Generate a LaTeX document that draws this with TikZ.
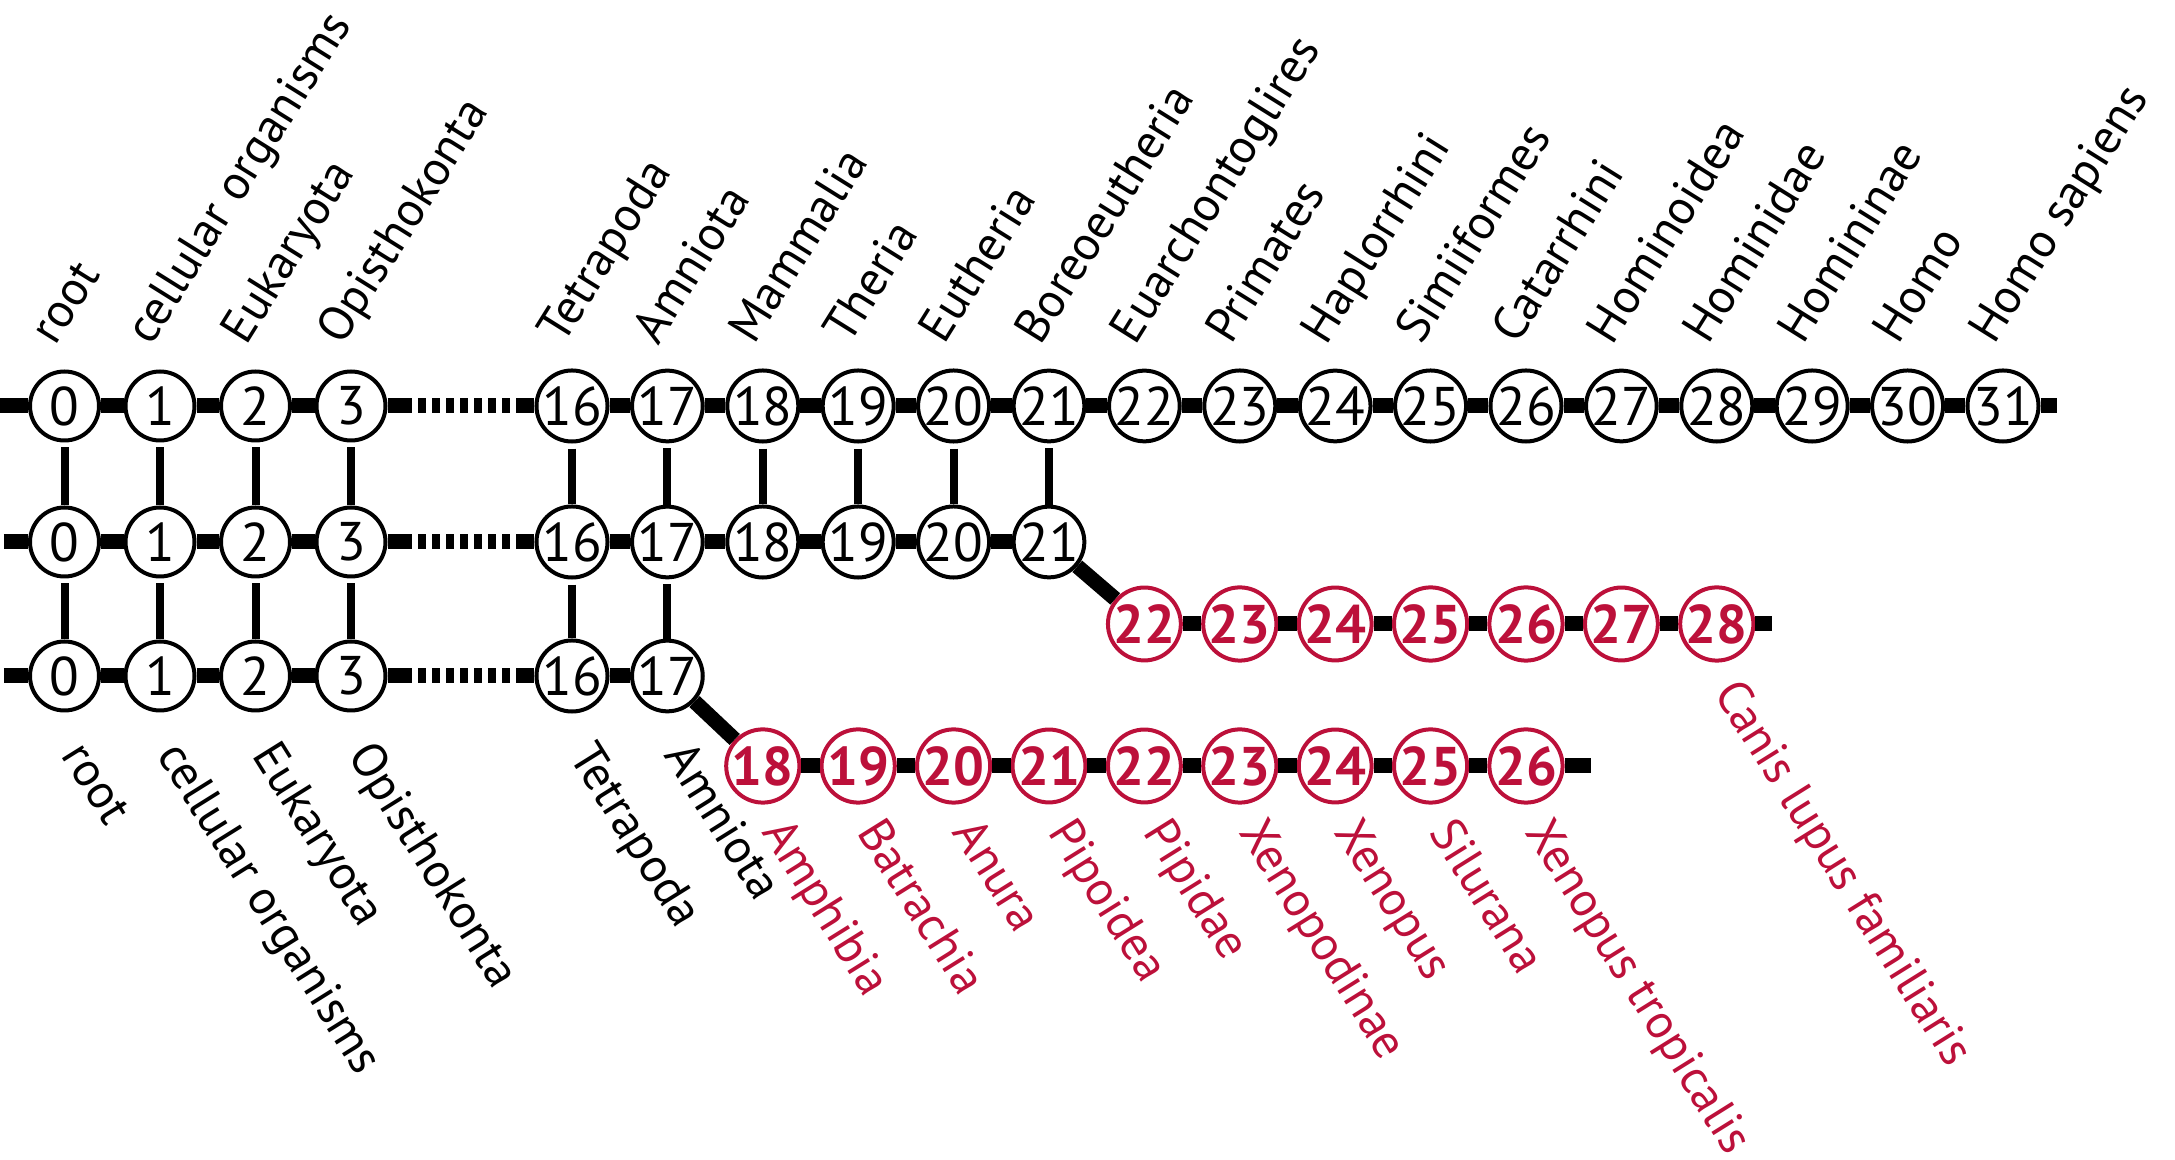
\documentclass[tikz,border=0pt]{standalone}
\usepackage{fontspec}
\setmainfont{PT Sans}
\usetikzlibrary{positioning}

\definecolor{novored}{RGB}{188,16,58}
\newcommand{\fonterotulo}{\fontsize{13.8}{16}\selectfont}
\newcommand{\fontenumero}{\fontsize{15.5}{18}\selectfont}

\tikzset{
  taxon/.style={circle, draw, line width=0.04cm, fill=white, minimum size=0.69cm,
    inner sep=0pt, font=\fontenumero},
  novo/.style={taxon, draw=novored, text=novored, font=\fontenumero\bfseries},
  ramo/.style={line width=0.15cm},
  elo/.style={line width=0.08cm},
  pontilhado/.style={ramo, dash pattern=on 0.075cm off 0.065cm, dash phase=0.075cm},
  rotcima/.style={rotate=58, anchor=base west, inner sep=0pt, font=\fonterotulo},
  rotbaixo/.style={rotate=-58, anchor=base west, inner sep=0pt, font=\fonterotulo},
}

\begin{document}
\begin{tikzpicture}

                \useasboundingbox (0,0) rectangle (21.75,11.6);
                \def\yA{7.54} % linhagem humana
                \def\yB{6.18} % linhagem do cão
                \def\yC{4.84} % linhagem da rã
                \def\yD{5.36} % ramo novo do cão
                \def\yF{3.94} % ramo novo da rã
                \def\dx{0.954} % passo entre nós

                % 1. Nós 0 a 3 nas três linhagens
                \foreach \i in {0,...,3}{
                    \pgfmathsetmacro{\xx}{0.645+0.955*\i}
                    \node[taxon] (a\i) at (\xx,\yA) {\i};
                    \node[taxon] (b\i) at (\xx,\yB) {\i};
                    \node[taxon] (c\i) at (\xx,\yC) {\i};
                }
                \foreach \i in {16,...,31}{
                    \pgfmathsetmacro{\xx}{5.72+\dx*(\i-16)}
                    \node[taxon] (a\i) at (\xx,\yA) {\i};
                }
                \foreach \i in {16,...,21}{
                    \pgfmathsetmacro{\xx}{5.72+\dx*(\i-16)}
                    \node[taxon] (b\i) at (\xx,\yB) {\i};
                }
                \foreach \i in {16,17}{
                    \pgfmathsetmacro{\xx}{5.72+\dx*(\i-16)}
                    \node[taxon] (c\i) at (\xx,\yC) {\i};
                }
                % nós novos (vermelhos)
                \foreach \i in {22,...,28}{
                    \pgfmathsetmacro{\xx}{5.72+\dx*(\i-16)}
                    \node[novo] (d\i) at (\xx,\yD) {\i};
                }
                \foreach \i in {18,...,26}{
                    \pgfmathsetmacro{\xx}{5.72+\dx*(\i-16)}
                    \node[novo] (f\i) at (\xx,\yF) {\i};
                }

                % 2. Linhas grossas entre os nós
                \coordinate (inicioA) at (0,\yA);
                \coordinate (inicioB) at (0.04,\yB);
                \coordinate (inicioC) at (0.04,\yC);
                \coordinate (fimA) at (20.57,\yA);
                \coordinate (fimD) at (17.72,\yD);
                \coordinate (fimF) at (15.91,\yF);
                \draw[ramo] (inicioA) -- (a0);
                \draw[ramo] (inicioB) -- (b0);
                \draw[ramo] (inicioC) -- (c0);
                \foreach \l in {a,b,c}{
                    \foreach \i in {0,1,2}{
                        \pgfmathtruncatemacro{\j}{\i+1}
                        \draw[ramo] (\l\i) -- (\l\j);
                    }
                    % trecho omitido (4 a 15)
                    \coordinate[right=0.24cm of \l3] (p\l);
                    \coordinate[left=0.155cm of \l16] (q\l);
                    \draw[ramo] (\l3) -- (p\l);
                    \draw[pontilhado] (p\l) -- (q\l);
                    \draw[ramo] (q\l) -- (\l16);
                }
                \foreach \i in {16,...,30}{
                    \pgfmathtruncatemacro{\j}{\i+1}
                    \draw[ramo] (a\i) -- (a\j);
                }
                \foreach \i in {16,...,20}{
                    \pgfmathtruncatemacro{\j}{\i+1}
                    \draw[ramo] (b\i) -- (b\j);
                }
                \draw[ramo] (c16) -- (c17);
                \foreach \i in {22,...,27}{
                    \pgfmathtruncatemacro{\j}{\i+1}
                    \draw[ramo] (d\i) -- (d\j);
                }
                \foreach \i in {18,...,25}{
                    \pgfmathtruncatemacro{\j}{\i+1}
                    \draw[ramo] (f\i) -- (f\j);
                }
                \draw[ramo] (a31) -- (fimA);
                \draw[ramo] (d28) -- (fimD);
                \draw[ramo] (f26) -- (fimF);
                \draw[ramo] (b21) -- (d22); % ramificação do cão
                \draw[ramo] (c17) -- (f18); % ramificação da rã

                % 3. Ligações verticais finas
                \foreach \i in {0,1,2,3,16,17,18,19,20,21}
                    \draw[elo, shorten <=0.05cm] (a\i) -- (b\i);
                \foreach \i in {0,1,2,3,16,17}
                    \draw[elo, shorten <=0.05cm] (b\i) -- (c\i);

                % 4. Rótulos
                \foreach \i/\t in {0/root, 1/cellular organisms, 2/Eukaryota, 3/Opisthokonta,
                    16/Tetrapoda, 17/Amniota, 18/Mammalia, 19/Theria, 20/Eutheria,
                    21/Boreoeutheria, 22/Euarchontoglires, 23/Primates, 24/Haplorrhini,
                    25/Simiiformes, 26/Catarrhini, 27/Hominoidea, 28/Hominidae,
                    29/Homininae, 30/Homo, 31/Homo sapiens}
                    \node[rotcima] (ra\i) at ([shift={(-0.09,0.22)}]a\i.north) {\t};
                \foreach \i/\t in {0/root, 1/cellular organisms, 2/Eukaryota, 3/Opisthokonta,
                    16/Tetrapoda, 17/Amniota}
                    \node[rotbaixo] (rc\i) at ([shift={(-0.04,-0.42)}]c\i.south) {\t};
                \foreach \i/\t in {18/Amphibia, 19/Batrachia, 20/Anura, 21/Pipoidea,
                    22/Pipidae, 23/Xenopodinae, 24/Xenopus, 25/Silurana, 26/Xenopus tropicalis}
                    \node[rotbaixo, text=novored] (rf\i) at ([shift={(-0.02,-0.27)}]f\i.south) {\t};
                \node[rotbaixo, text=novored] (rd28) at ([shift={(-0.04,-0.3)}]d28.south) {Canis lupus familiaris};

\end{tikzpicture}
\end{document}
